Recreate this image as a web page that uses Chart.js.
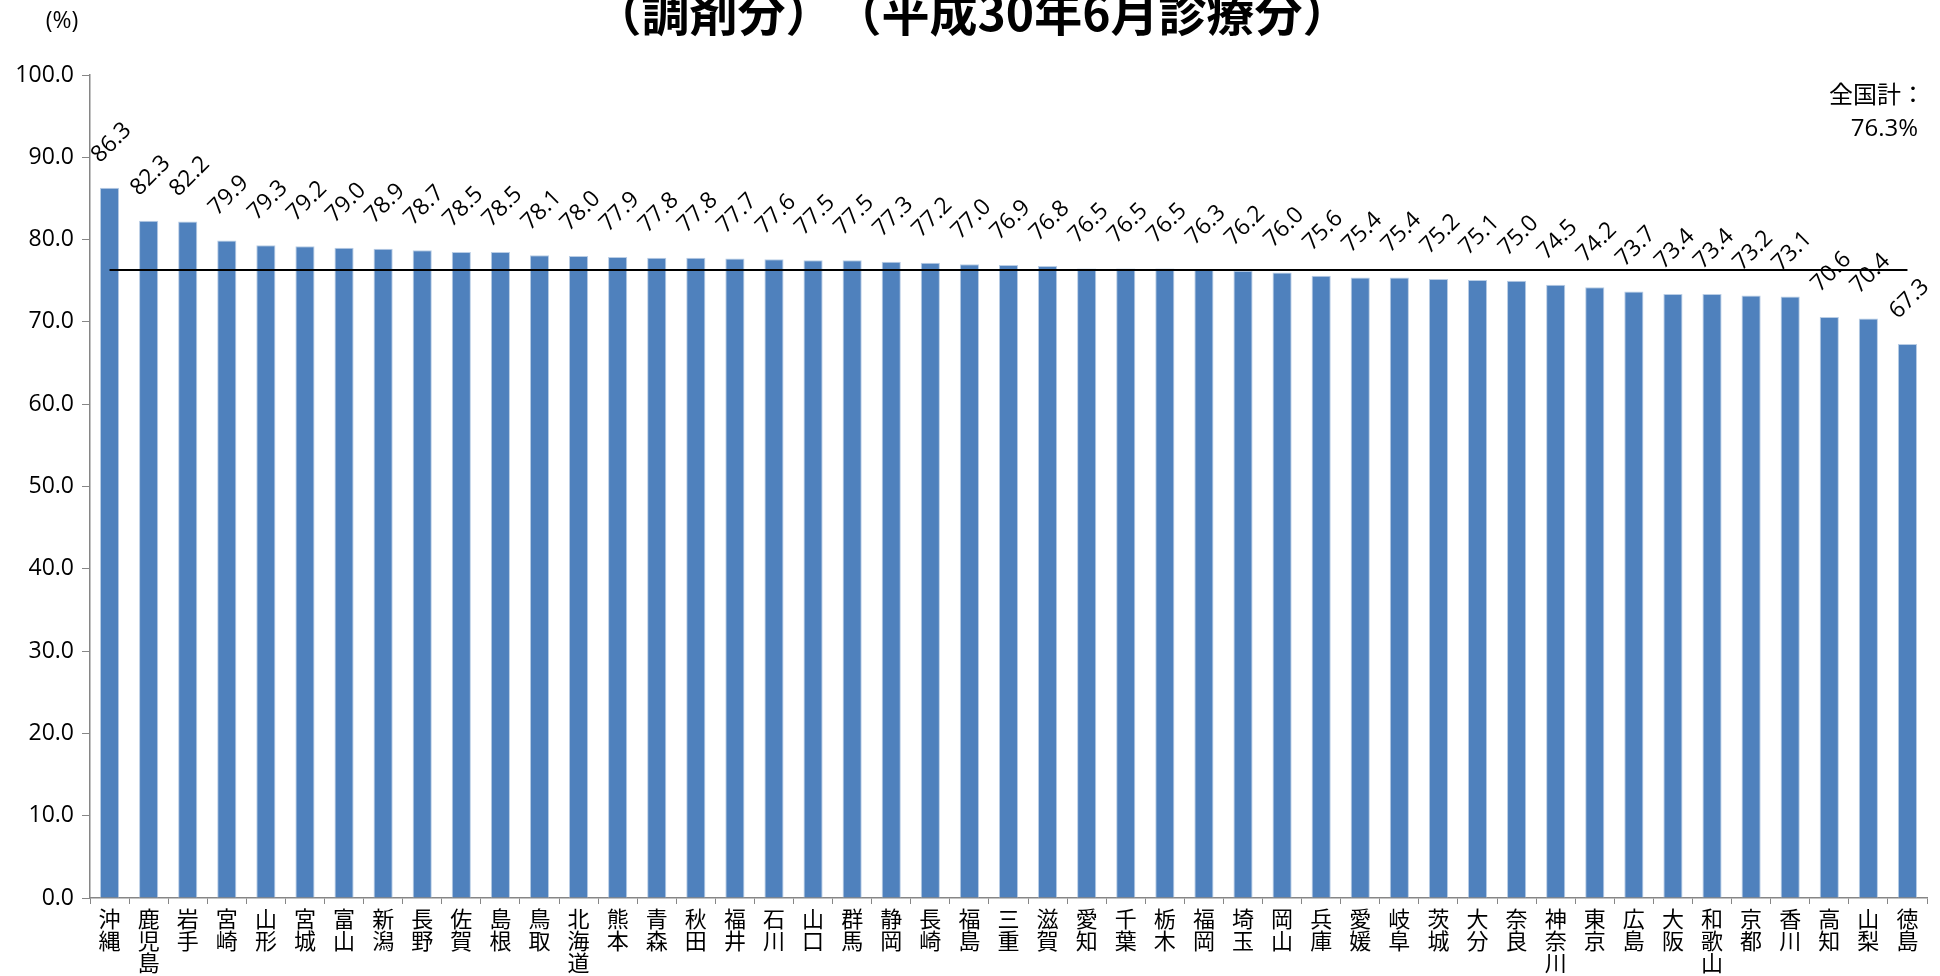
<!DOCTYPE html>
<html lang="ja">
<head>
<meta charset="utf-8">
<title>調剤分</title>
<script src="https://cdn.jsdelivr.net/npm/chart.js@4"></script>
<style>
  html, body { margin: 0; padding: 0; background: #fff; }
  #chart { display: block; }
</style>
</head>
<body>
<canvas id="chart" width="1940" height="976"></canvas>
<script>
const prefectures = [
  '沖縄', '鹿児島', '岩手', '宮崎', '山形', '宮城', '富山', '新潟', '長野', '佐賀',
  '島根', '鳥取', '北海道', '熊本', '青森', '秋田', '福井', '石川', '山口', '群馬',
  '静岡', '長崎', '福島', '三重', '滋賀', '愛知', '千葉', '栃木', '福岡', '埼玉',
  '岡山', '兵庫', '愛媛', '岐阜', '茨城', '大分', '奈良', '神奈川', '東京', '広島',
  '大阪', '和歌山', '京都', '香川', '高知', '山梨', '徳島'
];
const rates = [
  86.3, 82.3, 82.2, 79.9, 79.3, 79.2, 79.0, 78.9, 78.7, 78.5,
  78.5, 78.1, 78.0, 77.9, 77.8, 77.8, 77.7, 77.6, 77.5, 77.5,
  77.3, 77.2, 77.0, 76.9, 76.8, 76.5, 76.5, 76.5, 76.3, 76.2,
  76.0, 75.6, 75.4, 75.4, 75.2, 75.1, 75.0, 74.5, 74.2, 73.7,
  73.4, 73.4, 73.2, 73.1, 70.6, 70.4, 67.3
];
const nationalAvg = 76.3;
const titleText = '（調剤分）　（平成30年6月診療分）';
const unitText = '(%)';
const avgLabel = ['全国計：', nationalAvg.toFixed(1) + '%'];

const FONT = "'Open Sans', 'Noto Sans CJK JP', sans-serif";
const AXIS_GRAY = '#868686';

// value labels rotated 45deg above each bar, plus the loose texts
const labelsPlugin = {
  id: 'labelsPlugin',
  afterDatasetsDraw(chart) {
    const { ctx } = chart;
    const meta = chart.getDatasetMeta(0);
    ctx.save();
    ctx.fillStyle = '#000';
    ctx.font = '23px ' + FONT;
    ctx.textAlign = 'center';
    ctx.textBaseline = 'middle';
    meta.data.forEach((bar, i) => {
      ctx.save();
      ctx.translate(bar.x + 2, bar.y - 45);
      ctx.rotate(-Math.PI / 4);
      ctx.fillText(rates[i].toFixed(1), 0, 0);
      ctx.restore();
    });
    ctx.restore();
  },
  afterDraw(chart) {
    const { ctx } = chart;
    ctx.save();
    ctx.fillStyle = '#000';
    ctx.textBaseline = 'middle';

    ctx.font = "bold 48px 'Noto Sans CJK JP', sans-serif";
    ctx.textAlign = 'center';
    ctx.fillText(titleText, 972, 13);

    ctx.font = '23px ' + FONT;
    ctx.fillText(unitText, 62, 21);

    ctx.font = "24px 'Noto Sans CJK JP', sans-serif";
    ctx.textAlign = 'right';
    ctx.fillText(avgLabel[0], 1925, 94);
    ctx.font = '24px ' + FONT;
    ctx.fillText(avgLabel[1], 1918, 129);
    ctx.restore();
  }
};

new Chart(document.getElementById('chart').getContext('2d'), {
  type: 'bar',
  data: {
    labels: prefectures.map(p => [...p]),
    datasets: [
      {
        label: '調剤分',
        data: rates,
        backgroundColor: '#4F81BD',
        borderColor: '#B9CDE5',
        borderWidth: 1,
        barPercentage: 0.49,
        categoryPercentage: 1.0,
        order: 1
      },
      {
        type: 'line',
        label: '全国計',
        data: prefectures.map(() => nationalAvg),
        borderColor: '#000',
        borderWidth: 2,
        pointRadius: 0,
        fill: false,
        order: 0
      }
    ]
  },
  options: {
    responsive: false,
    animation: false,
    devicePixelRatio: 1,
    layout: { padding: { left: 0, right: 13, top: 75, bottom: 0 } },
    scales: {
      x: {
        afterFit(scale) { scale.height = 78; },
        grid: {
          offset: true,
          drawOnChartArea: false,
          drawTicks: true,
          tickLength: 6,
          color: AXIS_GRAY,
          tickColor: AXIS_GRAY
        },
        border: { display: true, color: AXIS_GRAY, width: 1.5 },
        ticks: {
          autoSkip: false,
          maxRotation: 0,
          minRotation: 0,
          padding: 4,
          color: '#000',
          font: { family: "'Noto Sans CJK JP', sans-serif", size: 22, lineHeight: 1.0 }
        }
      },
      y: {
        min: 0,
        max: 100,
        afterFit(scale) { scale.width = 90; },
        grid: {
          drawOnChartArea: false,
          drawTicks: true,
          tickLength: 8,
          color: AXIS_GRAY,
          tickColor: AXIS_GRAY
        },
        border: { display: true, color: AXIS_GRAY, width: 1.5 },
        ticks: {
          stepSize: 10,
          padding: 8,
          color: '#000',
          font: { family: FONT, size: 23 },
          callback: v => v.toFixed(1)
        }
      }
    },
    plugins: {
      legend: { display: false },
      tooltip: { enabled: false },
      title: { display: false }
    }
  },
  plugins: [labelsPlugin]
});
</script>
</body>
</html>
